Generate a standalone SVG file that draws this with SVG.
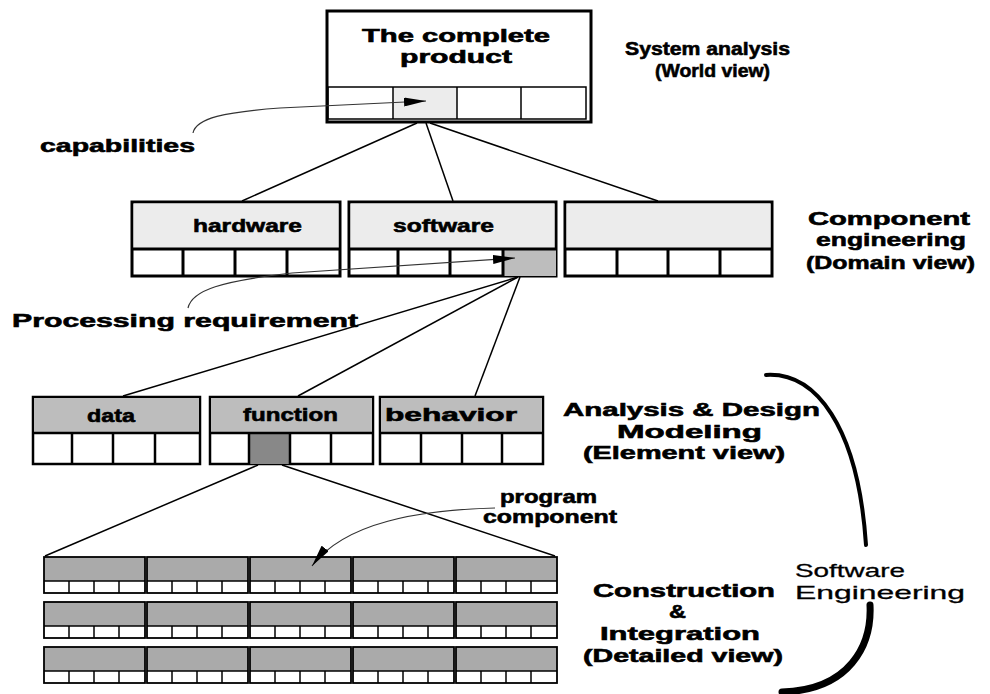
<svg xmlns="http://www.w3.org/2000/svg" width="990" height="694" viewBox="0 0 990 694">
  <defs>
    <style>
      .t { font-family: "Liberation Sans", Arial, sans-serif; font-weight: bold; font-size: 19px; fill: #000; stroke: #000; stroke-width: 0.6; }
      .t2 { font-family: "Liberation Sans", Arial, sans-serif; font-weight: bold; font-size: 18px; fill: #000; stroke: #000; stroke-width: 0.6; }
      .r { font-family: "Liberation Sans", Arial, sans-serif; font-weight: normal; font-size: 19px; fill: #000; stroke: #000; stroke-width: 0.3; }
      .box { fill: #fff; stroke: #000; stroke-width: 3; }
      .box2 { fill: #fff; stroke: #000; stroke-width: 2.5; }
      .cell { fill: none; stroke: #000; stroke-width: 1.5; }
      .hdr1 { fill: #ececec; }
      .hdr2 { fill: #bdbdbd; }
      .hdr3 { fill: #aaaaaa; }
      .link { fill: none; stroke: #000; stroke-width: 1.5; }
      .pointer { fill: none; stroke: #333; stroke-width: 1.2; }
      .arc { fill: none; stroke: #000; stroke-linecap: round; }
    </style>
    <marker id="head" markerUnits="userSpaceOnUse" markerWidth="22" markerHeight="9" refX="22" refY="4.5" orient="auto">
      <path d="M0,0 L22,4.5 L0,9 z" fill="#000"/>
    </marker>
    <!-- one cell of the construction grid -->
    <g id="unit">
      <rect x="0" y="0" width="101" height="24" class="hdr3"/>
      <rect x="0" y="0" width="101" height="36" fill="none" stroke="#000" stroke-width="1.8"/>
      <line x1="0" y1="24" x2="101" y2="24" class="cell"/>
      <line x1="25" y1="24" x2="25" y2="36" class="cell"/>
      <line x1="50" y1="24" x2="50" y2="36" class="cell"/>
      <line x1="75" y1="24" x2="75" y2="36" class="cell"/>
    </g>
  </defs>

  <rect width="990" height="694" fill="#fff"/>

  <!-- connectors -->
  <g id="connectors">
    <line x1="417" y1="123" x2="242" y2="201" class="link"/>
    <line x1="426" y1="123" x2="453" y2="201" class="link"/>
    <line x1="430" y1="123" x2="658" y2="201" class="link"/>
    <line x1="518" y1="277" x2="123" y2="396" class="link"/>
    <line x1="518" y1="277" x2="298" y2="396" class="link"/>
    <line x1="520" y1="277" x2="475" y2="396" class="link"/>
    <line x1="258" y1="465" x2="45" y2="556" class="link"/>
    <line x1="282" y1="465" x2="555" y2="556" class="link"/>
  </g>

  <!-- level 1: the complete product -->
  <g id="product">
    <rect x="327" y="11" width="264" height="111" class="box"/>
    <rect x="393" y="87" width="64" height="32" class="hdr1"/>
    <rect x="328" y="87" width="258" height="32" class="cell"/>
    <line x1="393" y1="87" x2="393" y2="119" class="cell"/>
    <line x1="457" y1="87" x2="457" y2="119" class="cell"/>
    <line x1="521" y1="87" x2="521" y2="119" class="cell"/>
    <text x="362" y="42" class="t2" textLength="188" lengthAdjust="spacingAndGlyphs">The complete</text>
    <text x="400" y="63" class="t2" textLength="112" lengthAdjust="spacingAndGlyphs">product</text>
  </g>

  <!-- level 2: components -->
  <g id="hardware">
    <rect x="132" y="202" width="208" height="74" class="box"/>
    <rect x="133.5" y="203.5" width="205" height="45" class="hdr1"/>
    <line x1="132" y1="249" x2="340" y2="249" class="box"/>
    <line x1="183" y1="249" x2="183" y2="276" class="box"/>
    <line x1="235" y1="249" x2="235" y2="276" class="box"/>
    <line x1="287" y1="249" x2="287" y2="276" class="box"/>
    <text x="193" y="232" class="t" textLength="109" lengthAdjust="spacingAndGlyphs">hardware</text>
  </g>
  <g id="software">
    <rect x="349" y="202" width="207" height="74" class="box"/>
    <rect x="350.5" y="203.5" width="204" height="45" class="hdr1"/>
    <rect x="503" y="249" width="53" height="27" class="hdr2"/>
    <line x1="349" y1="249" x2="556" y2="249" class="box"/>
    <line x1="398" y1="249" x2="398" y2="276" class="box"/>
    <line x1="450" y1="249" x2="450" y2="276" class="box"/>
    <line x1="503" y1="249" x2="503" y2="276" class="box"/>
    <text x="393" y="232" class="t" textLength="101" lengthAdjust="spacingAndGlyphs">software</text>
  </g>
  <g id="component3">
    <rect x="565" y="202" width="207" height="74" class="box"/>
    <rect x="566.5" y="203.5" width="204" height="45" class="hdr1"/>
    <line x1="565" y1="249" x2="772" y2="249" class="box"/>
    <line x1="617" y1="249" x2="617" y2="276" class="box"/>
    <line x1="668" y1="249" x2="668" y2="276" class="box"/>
    <line x1="720" y1="249" x2="720" y2="276" class="box"/>
  </g>

  <!-- level 3: analysis elements -->
  <g id="data">
    <rect x="33" y="397" width="167" height="67" class="box2"/>
    <rect x="34" y="398" width="165" height="35" class="hdr2"/>
    <line x1="33" y1="433" x2="200" y2="433" class="box2"/>
    <line x1="72" y1="433" x2="72" y2="464" class="box2"/>
    <line x1="113" y1="433" x2="113" y2="464" class="box2"/>
    <line x1="155" y1="433" x2="155" y2="464" class="box2"/>
    <text x="87" y="422" class="t" textLength="48" lengthAdjust="spacingAndGlyphs">data</text>
  </g>
  <g id="function">
    <rect x="210" y="397" width="163" height="67" class="box2"/>
    <rect x="211" y="398" width="161" height="35" class="hdr2"/>
    <rect x="249" y="433" width="41" height="31" fill="#888"/>
    <line x1="210" y1="433" x2="373" y2="433" class="box2"/>
    <line x1="249" y1="433" x2="249" y2="464" class="box2"/>
    <line x1="290" y1="433" x2="290" y2="464" class="box2"/>
    <line x1="331" y1="433" x2="331" y2="464" class="box2"/>
    <text x="243" y="421" class="t" textLength="95" lengthAdjust="spacingAndGlyphs">function</text>
  </g>
  <g id="behavior">
    <rect x="380" y="397" width="163" height="67" class="box2"/>
    <rect x="381" y="398" width="161" height="35" class="hdr2"/>
    <line x1="380" y1="433" x2="543" y2="433" class="box2"/>
    <line x1="421" y1="433" x2="421" y2="464" class="box2"/>
    <line x1="462" y1="433" x2="462" y2="464" class="box2"/>
    <line x1="502" y1="433" x2="502" y2="464" class="box2"/>
    <text x="385" y="421" class="t" textLength="132" lengthAdjust="spacingAndGlyphs">behavior</text>
  </g>

  <!-- level 4: program components grid -->
  <g id="grid">
    <use href="#unit" x="44" y="557"/>
    <use href="#unit" x="147" y="557"/>
    <use href="#unit" x="250" y="557"/>
    <use href="#unit" x="353" y="557"/>
    <use href="#unit" x="456" y="557"/>
    <use href="#unit" x="44" y="602"/>
    <use href="#unit" x="147" y="602"/>
    <use href="#unit" x="250" y="602"/>
    <use href="#unit" x="353" y="602"/>
    <use href="#unit" x="456" y="602"/>
    <use href="#unit" x="44" y="647"/>
    <use href="#unit" x="147" y="647"/>
    <use href="#unit" x="250" y="647"/>
    <use href="#unit" x="353" y="647"/>
    <use href="#unit" x="456" y="647"/>
  </g>

  <!-- callout pointers -->
  <g id="pointers">
    <path d="M193,133 C196,118 225,112 280,108 L426,101" class="pointer" marker-end="url(#head)"/>
    <path d="M188,308 C192,290 222,281 292,273 L515,258" class="pointer" marker-end="url(#head)"/>
    <path d="M495,508 C420,510 345,522 312,566" class="pointer" marker-end="url(#head)"/>
  </g>

  <!-- callout labels -->
  <g id="callouts">
    <text x="40" y="152" class="t" textLength="155" lengthAdjust="spacingAndGlyphs">capabilities</text>
    <text x="12" y="327" class="t" textLength="346" lengthAdjust="spacingAndGlyphs">Processing requirement</text>
    <text x="500" y="503" class="t" textLength="97" lengthAdjust="spacingAndGlyphs">program</text>
    <text x="483" y="523" class="t" textLength="134" lengthAdjust="spacingAndGlyphs">component</text>
  </g>

  <!-- level labels -->
  <g id="level-labels">
    <text x="625" y="55" class="t" textLength="165" lengthAdjust="spacingAndGlyphs">System analysis</text>
    <text x="655" y="77" class="t" textLength="115" lengthAdjust="spacingAndGlyphs">(World view)</text>
    <text x="808" y="225" class="t" textLength="162" lengthAdjust="spacingAndGlyphs">Component</text>
    <text x="816" y="246" class="t" textLength="150" lengthAdjust="spacingAndGlyphs">engineering</text>
    <text x="806" y="269" class="t" textLength="169" lengthAdjust="spacingAndGlyphs">(Domain view)</text>
    <text x="563" y="416" class="t" textLength="257" lengthAdjust="spacingAndGlyphs">Analysis &amp; Design</text>
    <text x="617" y="438" class="t" textLength="145" lengthAdjust="spacingAndGlyphs">Modeling</text>
    <text x="583" y="459" class="t" textLength="202" lengthAdjust="spacingAndGlyphs">(Element view)</text>
    <text x="593" y="597" class="t" textLength="182" lengthAdjust="spacingAndGlyphs">Construction</text>
    <text x="669" y="618" class="t" textLength="17" lengthAdjust="spacingAndGlyphs">&amp;</text>
    <text x="600" y="640" class="t" textLength="160" lengthAdjust="spacingAndGlyphs">Integration</text>
    <text x="583" y="662" class="t" textLength="200" lengthAdjust="spacingAndGlyphs">(Detailed view)</text>
  </g>

  <!-- software engineering bracket -->
  <g id="software-engineering">
    <path d="M766,375 C815,372 858,425 866,545" class="arc" stroke-width="4"/>
    <path d="M870,605 C872,645 850,690 782,692" class="arc" stroke-width="7"/>
    <text x="795" y="577" class="r" textLength="110" lengthAdjust="spacingAndGlyphs">Software</text>
    <text x="795" y="599" class="r" textLength="170" lengthAdjust="spacingAndGlyphs">Engineering</text>
  </g>
</svg>
